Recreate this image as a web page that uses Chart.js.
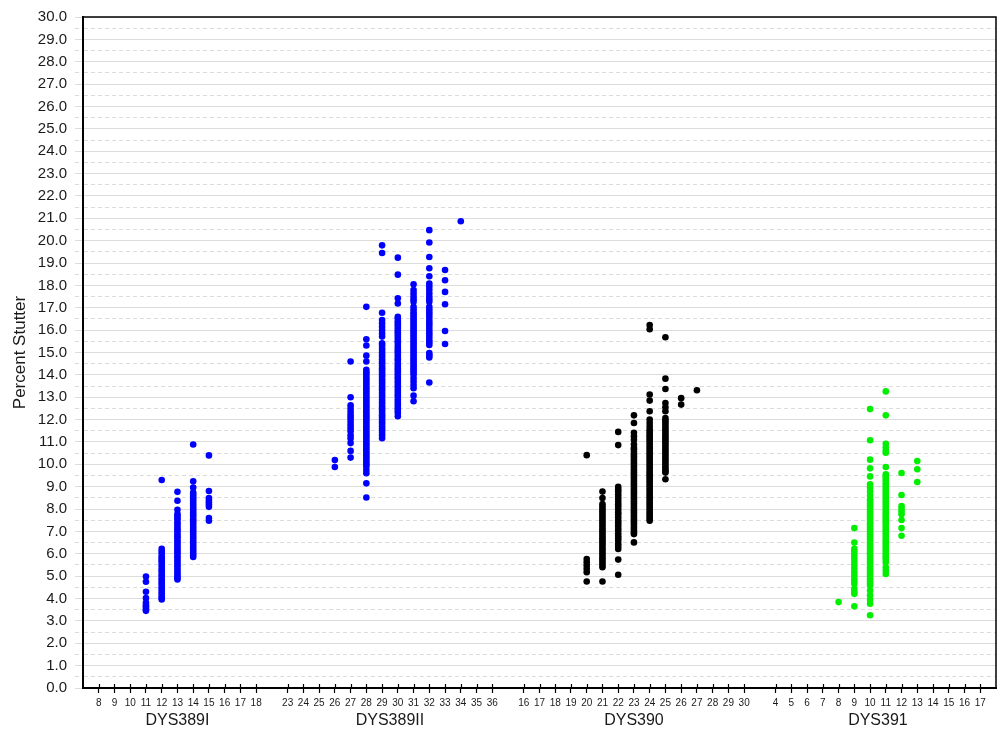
<!DOCTYPE html>
<html>
<head>
<meta charset="utf-8">
<script src="https://cdn.jsdelivr.net/npm/chart.js@4.4.0/dist/chart.umd.min.js"></script>
<style>
  html, body { margin: 0; padding: 0; background: #fff; }
</style>
</head>
<body>
<canvas id="stutterChart" width="1001" height="732"></canvas>
<script>
// Locus names and the allele labels printed under each group
const lociNames = ["DYS389I", "DYS389II", "DYS390", "DYS391"];
const dys389iTicks = [8, 9, 10, 11, 12, 13, 14, 15, 16, 17, 18];
const dys389iiTicks = [23, 24, 25, 26, 27, 28, 29, 30, 31, 32, 33, 34, 35, 36];
const dys390Ticks = [16, 17, 18, 19, 20, 21, 22, 23, 24, 25, 26, 27, 28, 29, 30];
const dys391Ticks = [4, 5, 6, 7, 8, 9, 10, 11, 12, 13, 14, 15, 16, 17];

// Percent stutter observed per allele
const dys389iAlleles = [11, 12, 13, 14, 15];
const dys389iStutter = [
  [4.98, 4.75, 4.3, 4.02, 3.82, 3.72, 3.65, 3.58, 3.5, 3.45],
  [9.3, 6.22, 6.1, 6.0, 5.88, 5.8, 5.7, 5.62, 5.5, 5.41, 5.3, 5.22, 5.1, 5.02, 4.9, 4.81, 4.7, 4.62, 4.5, 4.42, 4.3, 4.21, 4.1, 4.02, 3.96],
  [8.77, 8.37, 7.97, 7.78, 7.7, 7.6, 7.52, 7.4, 7.31, 7.2, 7.1, 7.02, 6.9, 6.8, 6.72, 6.6, 6.5, 6.41, 6.3, 6.2, 6.1, 6.02, 5.9, 5.81, 5.7, 5.6, 5.5, 5.42, 5.3, 5.2, 5.1, 5.0, 4.92, 4.85],
  [10.89, 9.24, 8.96, 8.74, 8.65, 8.55, 8.45, 8.36, 8.25, 8.15, 8.05, 7.96, 7.85, 7.75, 7.66, 7.55, 7.45, 7.35, 7.25, 7.15, 7.05, 6.95, 6.85, 6.75, 6.66, 6.55, 6.45, 6.35, 6.25, 6.15, 6.05, 5.95, 5.86],
  [10.4, 8.81, 8.49, 8.4, 8.3, 8.2, 8.1, 7.6, 7.48]
];

const dys389iiAlleles = [26, 27, 28, 29, 30, 31, 32, 33, 34];
const dys389iiStutter = [
  [10.19, 9.88],
  [14.6, 13.0, 12.64, 12.5, 12.35, 12.22, 12.1, 11.98, 11.85, 11.72, 11.6, 11.48, 11.3, 11.15, 10.95, 10.6, 10.3],
  [17.04, 15.59, 15.31, 14.86, 14.6, 14.23, 14.12, 14.02, 13.9, 13.8, 13.7, 13.6, 13.5, 13.4, 13.3, 13.2, 13.1, 13.0, 12.9, 12.8, 12.7, 12.6, 12.5, 12.4, 12.3, 12.2, 12.1, 12.0, 11.9, 11.8, 11.7, 11.6, 11.5, 11.4, 11.3, 11.2, 11.1, 11.0, 10.9, 10.8, 10.7, 10.6, 10.5, 10.4, 10.3, 10.2, 10.1, 10.0, 9.9, 9.75, 9.6, 9.15, 8.52],
  [19.79, 19.45, 16.78, 16.45, 16.3, 16.15, 16.0, 15.85, 15.71, 15.41, 15.32, 15.2, 15.11, 15.0, 14.9, 14.81, 14.7, 14.6, 14.52, 14.4, 14.3, 14.21, 14.1, 14.0, 13.92, 13.8, 13.7, 13.61, 13.5, 13.4, 13.31, 13.2, 13.1, 13.02, 12.9, 12.8, 12.71, 12.6, 12.5, 12.41, 12.3, 12.2, 12.11, 12.0, 11.9, 11.82, 11.7, 11.6, 11.51, 11.4, 11.3, 11.17],
  [19.24, 18.48, 17.42, 17.19, 16.6, 16.52, 16.4, 16.3, 16.21, 16.1, 16.0, 15.9, 15.81, 15.7, 15.6, 15.5, 15.42, 15.3, 15.2, 15.1, 15.01, 14.9, 14.8, 14.7, 14.62, 14.5, 14.4, 14.3, 14.21, 14.1, 14.0, 13.9, 13.82, 13.7, 13.6, 13.5, 13.41, 13.3, 13.2, 13.1, 13.02, 12.9, 12.8, 12.7, 12.61, 12.5, 12.4, 12.3, 12.15],
  [18.05, 17.79, 17.65, 17.5, 17.38, 17.27, 17.04, 16.92, 16.8, 16.7, 16.6, 16.5, 16.41, 16.3, 16.2, 16.1, 16.0, 15.9, 15.8, 15.7, 15.6, 15.5, 15.4, 15.3, 15.2, 15.1, 15.0, 14.9, 14.8, 14.7, 14.6, 14.5, 14.4, 14.3, 14.2, 14.1, 14.0, 13.85, 13.7, 13.55, 13.4, 13.07, 12.82],
  [20.47, 19.92, 19.27, 18.77, 18.41, 18.08, 17.95, 17.8, 17.65, 17.5, 17.38, 17.27, 17.04, 16.92, 16.8, 16.68, 16.55, 16.42, 16.3, 16.18, 16.05, 15.92, 15.8, 15.68, 15.55, 15.45, 15.34, 14.97, 14.88, 14.78, 13.66],
  [18.69, 18.23, 17.71, 17.16, 15.96, 15.38],
  [20.87]
];

const dys390Alleles = [20, 21, 22, 23, 24, 25, 26, 27];
const dys390Stutter = [
  [10.41, 5.77, 5.62, 5.48, 5.33, 5.18, 4.76],
  [8.78, 8.49, 8.22, 8.1, 8.0, 7.9, 7.8, 7.7, 7.6, 7.5, 7.4, 7.3, 7.2, 7.1, 7.0, 6.9, 6.8, 6.7, 6.6, 6.5, 6.4, 6.3, 6.2, 6.1, 6.0, 5.9, 5.8, 5.7, 5.6, 5.5, 5.4, 4.76],
  [11.45, 10.86, 8.99, 8.88, 8.78, 8.66, 8.55, 8.45, 8.32, 8.2, 8.1, 7.98, 7.85, 7.75, 7.62, 7.5, 7.4, 7.28, 7.15, 7.05, 6.92, 6.8, 6.7, 6.58, 6.45, 6.35, 6.22, 5.74, 5.06],
  [12.19, 11.85, 11.41, 11.25, 11.1, 10.9, 10.74, 10.67, 10.56, 10.45, 10.35, 10.25, 10.15, 10.05, 9.95, 9.85, 9.75, 9.65, 9.55, 9.45, 9.35, 9.25, 9.15, 9.05, 8.95, 8.85, 8.75, 8.65, 8.55, 8.45, 8.35, 8.25, 8.15, 8.05, 7.95, 7.85, 7.75, 7.65, 7.55, 7.45, 7.35, 7.25, 7.15, 7.05, 6.95, 6.88, 6.51],
  [16.23, 16.04, 13.12, 12.85, 12.37, 12.0, 11.85, 11.7, 11.56, 11.46, 11.36, 11.26, 11.16, 11.06, 10.96, 10.86, 10.76, 10.66, 10.56, 10.46, 10.36, 10.26, 10.16, 10.06, 9.96, 9.86, 9.76, 9.66, 9.56, 9.46, 9.36, 9.26, 9.16, 9.06, 8.96, 8.86, 8.76, 8.66, 8.56, 8.46, 8.36, 8.26, 8.16, 8.06, 7.96, 7.86, 7.76, 7.66, 7.56, 7.48],
  [15.68, 13.83, 13.37, 12.74, 12.55, 12.37, 12.07, 11.97, 11.87, 11.77, 11.67, 11.57, 11.47, 11.37, 11.27, 11.17, 11.07, 10.97, 10.87, 10.77, 10.67, 10.57, 10.47, 10.37, 10.27, 10.17, 10.07, 9.97, 9.87, 9.77, 9.68, 9.63, 9.33],
  [12.96, 12.67],
  [13.31]
];

const dys391Alleles = [8, 9, 10, 11, 12, 13];
const dys391Stutter = [
  [3.84],
  [7.15, 6.5, 6.22, 6.1, 5.95, 5.8, 5.65, 5.5, 5.35, 5.2, 5.05, 4.9, 4.78, 4.66, 4.44, 4.3, 4.21, 3.65],
  [12.47, 11.08, 10.21, 9.82, 9.46, 9.11, 8.95, 8.78, 8.6, 8.44, 8.37, 8.27, 8.17, 8.07, 7.97, 7.87, 7.77, 7.67, 7.57, 7.47, 7.37, 7.27, 7.17, 7.07, 6.97, 6.87, 6.77, 6.67, 6.57, 6.47, 6.37, 6.27, 6.17, 6.07, 5.97, 5.87, 5.77, 5.67, 5.57, 5.47, 5.37, 5.27, 5.17, 5.07, 4.97, 4.87, 4.77, 4.67, 4.58, 4.36, 4.15, 3.95, 3.77, 3.25],
  [13.26, 12.19, 10.92, 10.75, 10.62, 10.52, 9.88, 9.55, 9.45, 9.35, 9.25, 9.15, 9.05, 8.95, 8.85, 8.75, 8.65, 8.55, 8.45, 8.35, 8.25, 8.15, 8.05, 7.95, 7.85, 7.75, 7.65, 7.55, 7.45, 7.35, 7.25, 7.15, 7.05, 6.95, 6.85, 6.75, 6.65, 6.55, 6.45, 6.35, 6.25, 6.15, 6.05, 5.95, 5.85, 5.75, 5.62, 5.4, 5.25, 5.1],
  [9.61, 8.63, 8.14, 8.02, 7.9, 7.77, 7.51, 7.15, 6.81],
  [10.15, 9.78, 9.21]
];

// each locus gets its own run of slots on the x axis, one empty slot between runs
const tickGroups = [dys389iTicks, dys389iiTicks, dys390Ticks, dys391Ticks];
const groupStart = [];
let slot = 1;
tickGroups.forEach(t => { groupStart.push(slot); slot += t.length + 1; });
const xMax = slot - 1;
const posOf = (g, allele) => groupStart[g] + allele - tickGroups[g][0];

const alleleTicks = [];
tickGroups.forEach((t, g) => t.forEach(a => alleleTicks.push({ value: posOf(g, a), label: String(a) })));
const locusTicks = tickGroups.map((t, g) => ({ value: groupStart[g] + (t.length - 1) / 2, label: lociNames[g] }));

function seriesPoints(g, alleles, stutter) {
  const pts = [];
  alleles.forEach((a, i) => stutter[i].forEach(v => pts.push({ x: posOf(g, a), y: v })));
  return pts;
}

Chart.defaults.font.family = "'Liberation Sans', Arial, sans-serif";
Chart.defaults.color = "#1a1a1a";

const dot = (label, data, color) => ({
  label: label,
  data: data,
  backgroundColor: color,
  borderWidth: 0,
  pointRadius: 3.3,
  pointHoverRadius: 3.3,
});

// top/right frame and the short tick marks poking into the plot
const framePlugin = {
  id: "frame",
  afterDraw(chart) {
    const { ctx, chartArea: { left, right, top, bottom }, scales: { x } } = chart;
    ctx.save();
    ctx.strokeStyle = "#000";
    ctx.lineWidth = 1.5;
    ctx.beginPath();
    ctx.moveTo(left, top);
    ctx.lineTo(right, top);
    ctx.lineTo(right, bottom);
    ctx.stroke();
    ctx.lineWidth = 1.2;
    ctx.beginPath();
    x.ticks.forEach(t => {
      const px = Math.round(x.getPixelForValue(t.value)) + 0.5;
      ctx.moveTo(px, bottom);
      ctx.lineTo(px, bottom - 4);
    });
    ctx.stroke();
    ctx.restore();
  }
};

const halfDash = (c) => (c.tick && c.tick.value % 1 !== 0 ? [4, 3] : []);

new Chart(document.getElementById("stutterChart"), {
  type: "scatter",
  data: {
    datasets: [
      dot("DYS389I", seriesPoints(0, dys389iAlleles, dys389iStutter), "#0000ff"),
      dot("DYS389II", seriesPoints(1, dys389iiAlleles, dys389iiStutter), "#0000ff"),
      dot("DYS390", seriesPoints(2, dys390Alleles, dys390Stutter), "#000000"),
      dot("DYS391", seriesPoints(3, dys391Alleles, dys391Stutter), "#00f000"),
    ],
  },
  options: {
    responsive: false,
    animation: false,
    layout: { padding: { top: 14, right: 5, bottom: 0, left: 0 } },
    plugins: {
      legend: { display: false },
      tooltip: { enabled: false },
    },
    scales: {
      x: {
        type: "linear",
        position: "bottom",
        weight: 0,
        min: 0,
        max: xMax,
        afterBuildTicks: (axis) => { axis.ticks = alleleTicks.map(t => ({ value: t.value })); },
        afterFit: (s) => { s.height = 21; },
        ticks: {
          autoSkip: false,
          maxRotation: 0,
          padding: 4,
          font: { size: 10 },
          callback: (v, i) => alleleTicks[i].label,
        },
        grid: { drawOnChartArea: false, tickLength: 5, tickColor: "#000", tickWidth: 1.2 },
        border: { color: "#000", width: 2 },
      },
      loci: {
        type: "linear",
        axis: "x",
        position: "bottom",
        weight: 1,
        min: 0,
        max: xMax,
        afterBuildTicks: (axis) => { axis.ticks = locusTicks.map(t => ({ value: t.value })); },
        afterFit: (s) => { s.height = 23; },
        ticks: {
          autoSkip: false,
          maxRotation: 0,
          padding: 2,
          font: { size: 16 },
          callback: (v, i) => locusTicks[i].label,
        },
        grid: { display: false, drawTicks: false },
        border: { display: false },
      },
      y: {
        min: 0,
        max: 30,
        afterFit: (s) => { s.width = 83; },
        ticks: {
          stepSize: 0.5,
          autoSkip: false,
          padding: 8,
          font: { size: 15 },
          callback: (v) => (v % 1 === 0 ? v.toFixed(1) : ""),
        },
        grid: {
          color: "#dcdcdc",
          lineWidth: 1,
          tickLength: 8,
          tickBorderDash: halfDash,
        },
        border: { color: "#000", width: 2, dash: halfDash },
        title: {
          display: true,
          text: "Percent Stutter",
          font: { size: 17 },
          padding: { top: 10, bottom: 0 },
        },
      },
    },
  },
  plugins: [framePlugin],
});
</script>
</body>
</html>
